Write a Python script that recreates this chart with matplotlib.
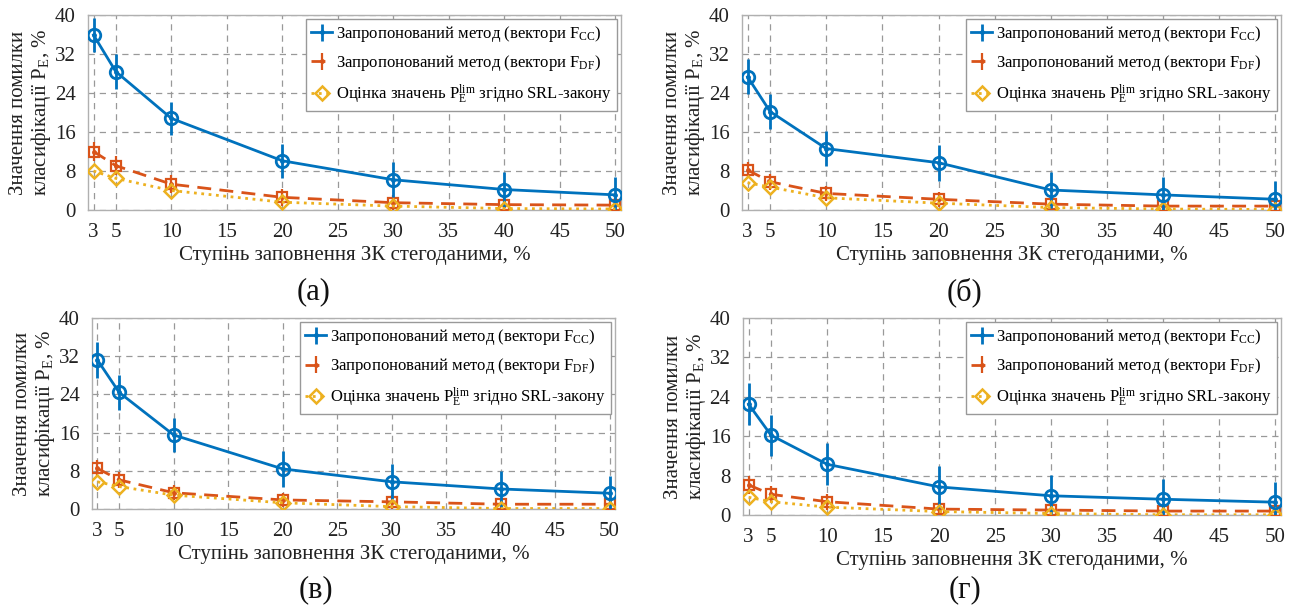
import matplotlib
matplotlib.use("Agg")
import matplotlib.pyplot as plt
import numpy as np

plt.rcParams['font.family'] = ['Liberation Serif', 'DejaVu Serif']
plt.rcParams['mathtext.fontset'] = 'custom'
plt.rcParams['mathtext.rm'] = 'Liberation Serif'
plt.rcParams['mathtext.it'] = 'Liberation Serif:italic'

x = [3, 5, 10, 20, 30, 40, 50]
xticks = [3, 5, 10, 15, 20, 25, 30, 35, 40, 45, 50]
yticks = [0, 8, 16, 24, 32, 40]

# panel (а)
fcc_a = [35.9, 28.4, 18.8, 10.1, 6.2, 4.2, 3.1]
fcc_a_err = [3.5, 3.5, 3.4, 3.5, 3.6, 3.6, 3.6]
fdf_a = [12.0, 9.1, 5.3, 2.6, 1.5, 1.1, 1.0]
fdf_a_err = [2.0, 1.9, 1.8, 1.7, 1.6, 1.5, 1.5]
srl_a = [8.0, 6.5, 4.0, 1.6, 0.8, 0.3, 0.2]

# panel (б)
fcc_b = [27.3, 20.2, 12.6, 9.7, 4.1, 3.1, 2.2]
fcc_b_err = [3.6, 3.6, 3.6, 3.7, 3.7, 3.7, 3.7]
fdf_b = [8.2, 5.8, 3.4, 2.2, 1.2, 0.8, 0.8]
fdf_b_err = [1.7, 1.6, 1.6, 1.5, 1.5, 1.4, 1.4]
srl_b = [5.6, 4.7, 2.5, 1.4, 0.5, 0.2, 0.1]

# panel (в)
fcc_c = [31.2, 24.4, 15.5, 8.4, 5.7, 4.2, 3.3]
fcc_c_err = [3.7, 3.7, 3.6, 3.7, 3.7, 3.7, 3.7]
fdf_c = [8.5, 6.1, 3.4, 1.9, 1.5, 1.0, 1.0]
fdf_c_err = [1.7, 1.6, 1.6, 1.5, 1.5, 1.4, 1.4]
srl_c = [5.7, 4.7, 2.9, 1.3, 0.5, 0.1, 0.1]

# panel (г)
fcc_d = [22.5, 16.2, 10.3, 5.7, 3.9, 3.2, 2.6]
fcc_d_err = [4.3, 4.2, 4.3, 4.2, 4.2, 4.2, 4.2]
fdf_d = [6.1, 4.2, 2.7, 1.2, 1.0, 0.8, 0.8]
fdf_d_err = [1.8, 1.7, 1.6, 1.5, 1.5, 1.4, 1.4]
srl_d = [3.6, 2.7, 1.6, 0.7, 0.3, 0.05, 0.05]

panel_labels = ['(а)', '(б)', '(в)', '(г)']
leg_fcc = 'Запропонований метод (вектори F$_{\\mathrm{CC}}$)'
leg_fdf = 'Запропонований метод (вектори F$_{\\mathrm{DF}}$)'
leg_srl = 'Оцінка значень P$_{\\mathrm{E}}^{\\mathrm{lim}}$ згідно SRL-закону'
xlabel = 'Ступінь заповнення ЗК стегоданими, %'
ylabel = 'Значення помилки\nкласифікації P$_{\\mathrm{E}}$, %'

C1, C2, C3 = '#0072BD', '#D95319', '#EDB120'

W, H = 1298, 613
fig = plt.figure(figsize=(W / 100, H / 100), dpi=100)

boxes = [(88, 621, 15, 210), (742, 1281, 15, 210),
         (92, 615, 318, 509), (743, 1281, 318, 515)]
label_pos = [(314, 292), (965, 292), (316, 590), (965, 590)]

data = [(fcc_a, fcc_a_err, fdf_a, fdf_a_err, srl_a),
        (fcc_b, fcc_b_err, fdf_b, fdf_b_err, srl_b),
        (fcc_c, fcc_c_err, fdf_c, fdf_c_err, srl_c),
        (fcc_d, fcc_d_err, fdf_d, fdf_d_err, srl_d)]

for i, ((l, r, t, b), (fcc, fcce, fdf, fdfe, srl)) in enumerate(zip(boxes, data)):
    ax = fig.add_axes([l / W, 1 - b / H, (r - l) / W, (b - t) / H])
    h1 = ax.errorbar(x, fcc, yerr=fcce, color=C1, lw=2, marker='.', markersize=5,
                     elinewidth=2, capsize=0, label=leg_fcc, zorder=4)
    ax.plot(x, fcc, ls='none', marker='o', markersize=9, mfc='none',
            mec=C1, mew=2, zorder=5)
    h2 = ax.errorbar(x, fdf, yerr=fdfe, color=C2, lw=2, ls=(0, (5, 3)), marker='.',
                     markersize=5, elinewidth=1.6, capsize=0, label=leg_fdf, zorder=3)
    ax.plot(x, fdf, ls='none', marker='s', markersize=7, mfc='none',
            mec=C2, mew=1.6, zorder=3)
    h3, = ax.plot(x, srl, color=C3, lw=2, ls=':', marker='D', markersize=7,
                  mfc='none', mec=C3, mew=1.8, label=leg_srl, zorder=4)

    ax.set_xlim(2.5, 50.5)
    ax.set_ylim(0, 40)
    ax.set_xticks(xticks)
    ax.set_yticks(yticks)
    ax.tick_params(labelsize=15, direction='in', length=0, pad=9,
                   labelcolor='#222222')
    ax.grid(True, ls=(0, (5, 4)), color='#999999', lw=0.9)
    for s in ax.spines.values():
        s.set_color('#b0b0b0')
        s.set_linewidth(1)
    ax.set_xlabel(xlabel, fontsize=15, labelpad=3, color='#222222')
    ax.set_ylabel(ylabel, fontsize=15, labelpad=1, color='#222222',
                  linespacing=1.05)
    leg = ax.legend(handles=[h1, h2, h3], loc='upper right', fontsize=12,
                    frameon=True, fancybox=False, framealpha=1,
                    edgecolor='#999999', borderaxespad=0.25, handlelength=1.3,
                    handletextpad=0.2, borderpad=0.3, labelspacing=0.55)
    leg.get_frame().set_linewidth(1)
    px, py = label_pos[i]
    fig.text(px / W, 1 - py / H, panel_labels[i], fontsize=22,
             ha='center', va='center', color='#111111')

fig.savefig('out.png', dpi=100)
